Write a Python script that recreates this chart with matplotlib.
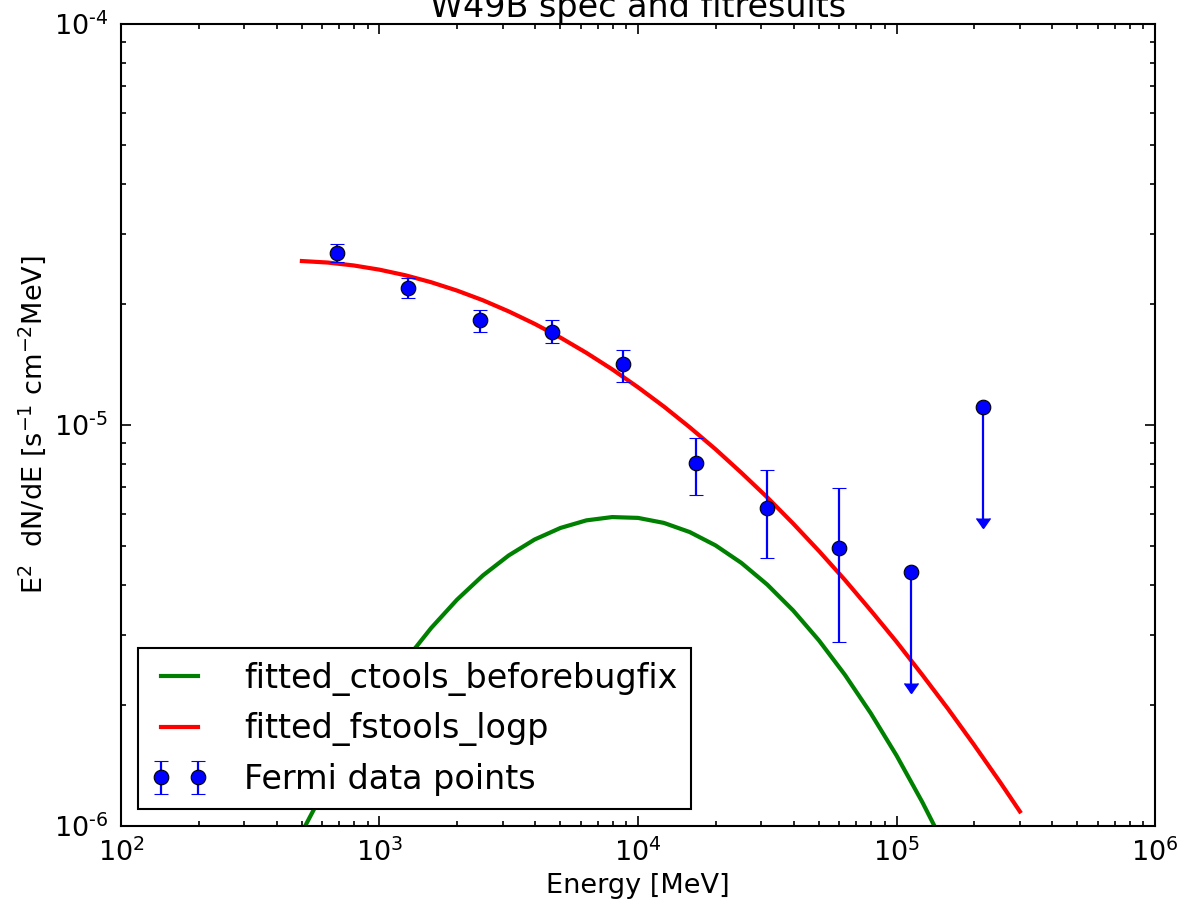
import numpy as np
import matplotlib
matplotlib.use('Agg')
import matplotlib.pyplot as plt
import matplotlib.lines as mlines
from matplotlib.ticker import FuncFormatter

# Fermi data points (MeV, E^2 dN/dE)
energy = [685, 1288, 2449, 4645, 8750, 16750, 31550, 59950]
flux = [2.68e-5, 2.20e-5, 1.83e-5, 1.71e-5, 1.42e-5, 8.04e-6, 6.21e-6, 4.93e-6]
flux_hi = [2.82e-5, 2.33e-5, 1.94e-5, 1.83e-5, 1.54e-5, 9.28e-6, 7.73e-6, 6.97e-6]
flux_lo = [2.55e-5, 2.07e-5, 1.71e-5, 1.60e-5, 1.28e-5, 6.68e-6, 4.66e-6, 2.88e-6]

# upper limits
ul_energy = [113800, 216100]
ul_flux = [4.30e-6, 1.11e-5]

# fitted models
model_e = [501, 631, 794, 1000, 1259, 1585, 1995, 2512, 3162, 3981,
           5012, 6310, 7943, 10000, 12589, 15849, 19953, 25119, 31623, 39811,
           50119, 63096, 79433, 100000, 125893, 158489, 199526, 251189, 300000]
ctools_before = [9.65e-7, 1.279e-6, 1.657e-6, 2.096e-6, 2.587e-6, 3.118e-6, 3.668e-6, 4.215e-6,
                 4.729e-6, 5.181e-6, 5.537e-6, 5.783e-6, 5.894e-6, 5.866e-6, 5.70e-6, 5.408e-6,
                 5.009e-6, 4.529e-6, 3.999e-6, 3.448e-6, 2.902e-6, 2.384e-6, 1.912e-6, 1.499e-6,
                 1.146e-6, 8.56e-7, 6.24e-7, 4.44e-7, 3.36e-7]
fstools_logp = [2.564e-5, 2.542e-5, 2.500e-5, 2.440e-5, 2.363e-5, 2.270e-5, 2.164e-5, 2.047e-5,
                1.920e-5, 1.788e-5, 1.652e-5, 1.514e-5, 1.377e-5, 1.242e-5, 1.112e-5, 9.87e-6,
                8.70e-6, 7.60e-6, 6.60e-6, 5.68e-6, 4.85e-6, 4.11e-6, 3.45e-6, 2.88e-6,
                2.38e-6, 1.956e-6, 1.593e-6, 1.288e-6, 1.087e-6]

plt.rcParams['font.family'] = ['DejaVu Sans']
plt.rcParams['mathtext.default'] = 'regular'

fig = plt.figure(figsize=(11.86, 9.14), dpi=100)
ax = fig.add_axes([0.1020, 0.0963, 0.8719, 0.8774])

ax.plot(model_e, ctools_before, color='g', lw=3.0, label='fitted_ctools_beforebugfix')
ax.plot(model_e, fstools_logp, color='r', lw=3.0, label='fitted_fstools_logp')

flux = np.array(flux)
yerr = [flux - np.array(flux_lo), np.array(flux_hi) - flux]
ax.errorbar(energy, flux, yerr=yerr, fmt='o', color='b', ecolor='b', ms=10.5, mec='k', mew=0.8,
            elinewidth=1.6, capsize=5, capthick=1.4, label='Fermi data points')

# upper limits: bar down to half the value with an arrow head
ul_flux = np.array(ul_flux)
ax.errorbar(ul_energy, ul_flux, yerr=[ul_flux * 0.5, ul_flux * 0], fmt='o', color='b', ecolor='b',
            ms=10.5, mec='k', mew=0.8, elinewidth=1.6, capsize=0)
ax.plot(ul_energy, ul_flux * 0.5, ls='none', marker=mlines.CARETDOWN, ms=10, color='b', mec='b')

ax.set_xscale('log')
ax.set_yscale('log')
ax.set_xlim(1e2, 1e6)
ax.set_ylim(1e-6, 1e-4)

def fmt(v, pos):
    e = int(round(np.log10(v)))
    if e < 0:
        return r'$10^{\text{-}%d}$' % (-e)
    return r'$10^{%d}$' % e

ax.xaxis.set_major_formatter(FuncFormatter(fmt))
ax.yaxis.set_major_formatter(FuncFormatter(fmt))
ax.tick_params(which='both', direction='in', top=True, right=True, labelsize=19.5, width=1.2)
ax.tick_params(which='major', length=7, pad=9)
ax.tick_params(which='minor', length=3.6, labelleft=False, labelbottom=False)
for s in ax.spines.values():
    s.set_linewidth(1.5)

ax.set_xlabel('Energy [MeV]', fontsize=19.5)
ax.set_ylabel(r'E$^2$  dN/dE [s$^{-1}$ cm$^{-2}$MeV]', fontsize=19.5)
ax.set_title('W49B spec and fitresults', fontsize=24, pad=5)

leg = ax.legend(loc='lower left', numpoints=2, fontsize=24, fancybox=False, framealpha=1,
                edgecolor='k', handlelength=1.7, handletextpad=1.1, borderaxespad=0.5)
leg.get_frame().set_linewidth(1.5)

fig.savefig('out.png', dpi=100)
